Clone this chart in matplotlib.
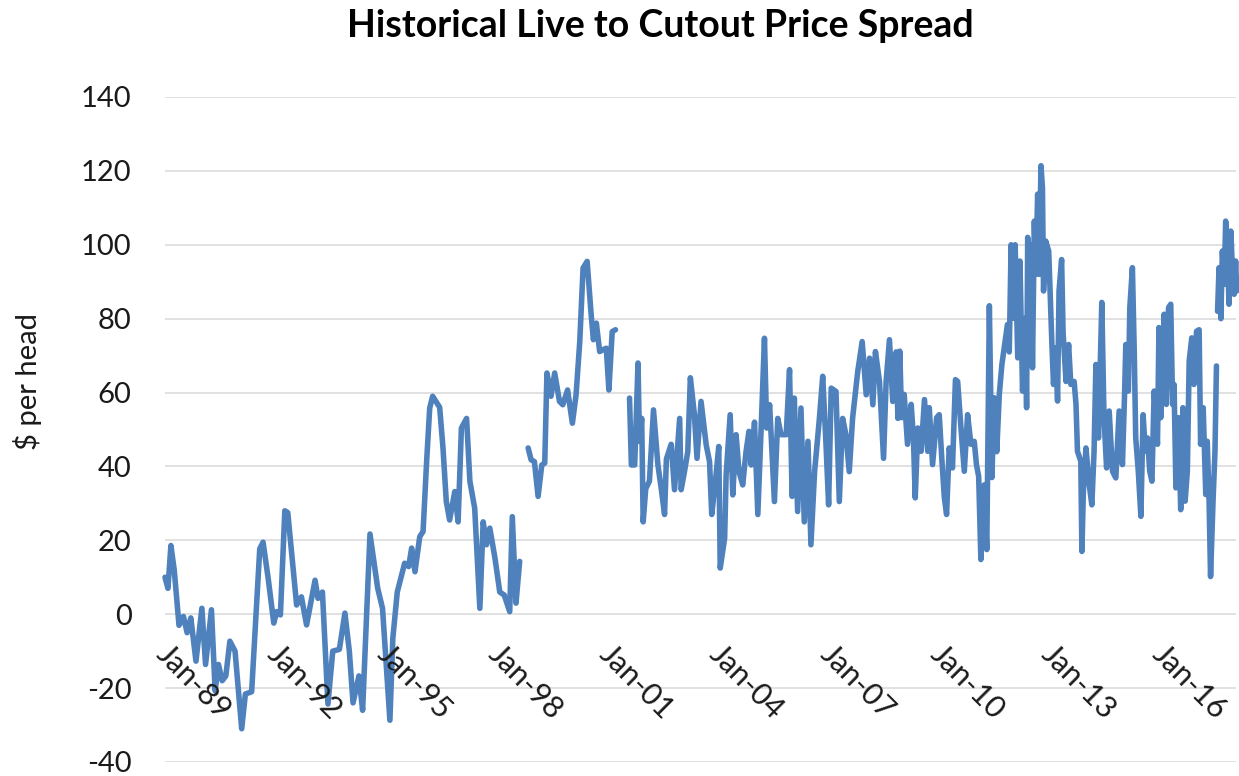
import numpy as np
import matplotlib.pyplot as plt
from matplotlib.transforms import offset_copy

# Live to cutout spread ($ per head).
# x values are fractional years; the series has gaps, so it is kept in pieces.

years_89_98 = [1989.00, 1989.08, 1989.16, 1989.25, 1989.38, 1989.50, 1989.60, 1989.70, 1989.84, 1990.00,
               1990.10, 1990.26, 1990.36, 1990.45, 1990.55, 1990.65, 1990.76, 1990.90, 1991.08, 1991.18,
               1991.35, 1991.57, 1991.66, 1991.80, 1991.95, 1992.03, 1992.13, 1992.25, 1992.33, 1992.57,
               1992.70, 1992.84, 1993.07, 1993.15, 1993.27, 1993.42, 1993.55, 1993.73, 1993.88, 1994.00,
               1994.10, 1994.26, 1994.36, 1994.56, 1994.77, 1994.90, 1995.10, 1995.18, 1995.30, 1995.50,
               1995.61, 1995.69, 1995.78, 1995.91, 1996.00, 1996.10, 1996.18, 1996.26, 1996.45, 1996.54,
               1996.63, 1996.72, 1996.86, 1996.95, 1997.04, 1997.18, 1997.27, 1997.40, 1997.54, 1997.63,
               1997.72, 1997.81, 1997.95, 1998.08, 1998.20, 1998.35, 1998.42, 1998.52, 1998.62]
spread_89_98 = [10, 7, 18.6, 12, -3, -0.6, -5, -1, -12.7, 1.6,
                -13.6, 1.2, -20.7, -13.6, -18, -16.7, -7.3, -10, -31, -21.6,
                -21, 17.7, 19.5, 9.6, -2.4, 0.7, -0.2, 28, 27.5, 2.5,
                4.7, -2.9, 9.2, 4.3, 6, -24.3, -10, -9.5, 0.3, -10,
                -24, -16.7, -26, 21.7, 7, 1.6, -28.7, -6.5, 6, 13.8,
                12.9, 17.9, 11.5, 21, 22.4, 42, 55.8, 59, 56, 45,
                30.5, 25.5, 33.2, 25, 50.4, 53, 36, 28.7, 1.6, 25,
                18.8, 23.3, 15.2, 6, 5.2, 0.7, 26.4, 3, 14.3]

years_98_01 = [1998.85, 1998.93, 1999.02, 1999.12, 1999.22, 1999.30, 1999.36, 1999.47, 1999.57, 1999.70,
               1999.79, 1999.92, 2000.05, 2000.15, 2000.25, 2000.34, 2000.45, 2000.56, 2000.62, 2000.70,
               2000.79, 2000.88, 2000.97, 2001.04, 2001.13, 2001.22]
spread_98_01 = [45, 41.8, 41.3, 31.9, 40.4, 40.9, 65.3, 59, 65.3, 57.6,
                56.7, 60.7, 51.7, 59.4, 73.8, 93.7, 95.5, 81, 74.3, 78.8,
                71.1, 71.6, 72, 60.7, 76.5, 77]

years_01_08 = [2001.60, 2001.65, 2001.74, 2001.83, 2001.87, 2001.93, 2001.97, 2002.04, 2002.14, 2002.25,
               2002.37, 2002.46, 2002.55, 2002.60, 2002.73, 2002.82, 2002.96, 2003.00, 2003.09, 2003.18,
               2003.25, 2003.36, 2003.43, 2003.54, 2003.68, 2003.77, 2003.83, 2003.93, 2004.02, 2004.06,
               2004.18, 2004.22, 2004.33, 2004.40, 2004.49, 2004.57, 2004.67, 2004.76, 2004.84, 2004.90,
               2004.99, 2005.08, 2005.17, 2005.26, 2005.32, 2005.40, 2005.53, 2005.62, 2005.71, 2005.85,
               2005.94, 2006.01, 2006.07, 2006.16, 2006.25, 2006.34, 2006.44, 2006.52, 2006.62, 2006.75,
               2006.84, 2006.93, 2007.00, 2007.07, 2007.20, 2007.29, 2007.38, 2007.47, 2007.56, 2007.65,
               2007.79, 2007.91, 2008.02, 2008.11, 2008.20, 2008.27, 2008.38, 2008.49, 2008.56, 2008.65,
               2008.74, 2008.83, 2008.88, 2008.93, 2008.98]
spread_01_08 = [58.5, 40.4, 40.4, 68, 46.8, 53, 25, 34, 36, 55.3,
                40.4, 34, 27, 42, 46, 33.7, 53, 33.7, 38.6, 44,
                64, 54, 42.2, 57.6, 45.8, 41.3, 27, 36, 45.4, 12.5,
                20.6, 37.7, 54, 32.3, 48.6, 38.6, 35, 44, 49.5, 40.4,
                52, 27, 50.4, 74.7, 50.4, 56.7, 30.5, 53, 48.6, 48.6,
                66.2, 31.9, 58.5, 27.8, 55.8, 25, 46.8, 18.8, 38.6, 53,
                64.4, 45.8, 29.6, 61.2, 60.3, 30.5, 53, 48.6, 38.6, 53,
                65.7, 73.8, 59.4, 69.3, 56.7, 71.1, 63, 42.2, 63, 74.3,
                57.6, 71, 53, 71.2, 53.2]

years_09_17 = [2009.05, 2009.14, 2009.24, 2009.30, 2009.35, 2009.42, 2009.51, 2009.60, 2009.69, 2009.73,
               2009.82, 2009.93, 2010.00, 2010.08, 2010.14, 2010.20, 2010.27, 2010.36, 2010.44, 2010.50,
               2010.59, 2010.68, 2010.77, 2010.86, 2010.95, 2011.01, 2011.07, 2011.13, 2011.22, 2011.29,
               2011.36, 2011.43, 2011.49, 2011.56, 2011.63, 2011.70, 2011.79, 2011.85, 2011.90, 2011.95,
               2012.01, 2012.06, 2012.13, 2012.19, 2012.26, 2012.33, 2012.37, 2012.40, 2012.44, 2012.49,
               2012.53, 2012.58, 2012.62, 2012.67, 2012.71, 2012.76, 2012.80, 2012.83, 2012.89, 2012.97,
               2013.00, 2013.06, 2013.10, 2013.16, 2013.21, 2013.25, 2013.32, 2013.36, 2013.44, 2013.51,
               2013.57, 2013.66, 2013.71, 2013.75, 2013.84, 2013.87, 2013.91, 2013.98, 2014.07, 2014.14,
               2014.20, 2014.25, 2014.32, 2014.41, 2014.47, 2014.54, 2014.61, 2014.70, 2014.79, 2014.88,
               2014.97, 2015.03, 2015.06, 2015.13, 2015.17, 2015.24, 2015.29, 2015.33, 2015.40, 2015.47,
               2015.53, 2015.59, 2015.65, 2015.71, 2015.77, 2015.83, 2015.92, 2015.96, 2016.01, 2016.10,
               2016.16, 2016.22, 2016.28, 2016.33, 2016.37, 2016.42, 2016.49, 2016.55, 2016.61, 2016.67,
               2016.73, 2016.78, 2016.85, 2016.91, 2016.98, 2017.05, 2017.09, 2017.16, 2017.23, 2017.27,
               2017.32, 2017.36, 2017.43, 2017.48, 2017.52]
spread_09_17 = [59.5, 46, 56.8, 47.7, 31.5, 50.4, 44.1, 58.1, 44.1, 55.9,
                40.5, 53.2, 54, 40.5, 31.5, 27, 45, 39.6, 63.5, 63,
                50.4, 38.7, 54, 46, 46.8, 40.5, 37.3, 14.8, 35, 17.5,
                83.5, 37, 58.6, 44, 59.5, 67.6, 74, 78.4, 71, 100,
                80.1, 100, 69.4, 95.6, 60.4, 80.1, 55.9, 102, 80, 100,
                66.7, 106.4, 92, 113.7, 92, 121.4, 115.5, 87.5, 101, 98.3,
                89.3, 72.1, 62.2, 72.1, 57.7, 87.5, 96, 76.2, 63, 73,
                62.2, 63, 56.8, 44.1, 41.4, 17, 33.3, 45, 35, 29.6,
                44.1, 67.6, 47.7, 84.4, 53.2, 39.6, 55, 38.7, 36.9, 55,
                40.5, 60.4, 73, 60.4, 83, 93.8, 71.2, 47.7, 38.7, 26.5,
                54, 44.1, 47.7, 38.7, 36, 60.4, 46, 77.6, 53.2, 81.2,
                56.8, 83, 83.9, 56.8, 62.2, 34.2, 53.2, 28.3, 55.9, 30.6,
                38.7, 68.5, 74.8, 62.2, 76.6, 77, 46, 55.9, 32.4, 46.8,
                30.6, 10.2, 31.5, 44.1, 67.2]

years_17 = [2017.55, 2017.59, 2017.64, 2017.68, 2017.73, 2017.77, 2017.82, 2017.86, 2017.91, 2017.95,
            2018.00, 2018.04, 2018.07]
spread_17 = [82, 93.8, 80, 98.3, 89.3, 106.4, 98.3, 83.9, 103.7, 93.8,
             86.6, 95.6, 87.5]

tick_years = [1989, 1992, 1995, 1998, 2001, 2004, 2007, 2010, 2013, 2016]
tick_labels = ['Jan-89', 'Jan-92', 'Jan-95', 'Jan-98', 'Jan-01',
               'Jan-04', 'Jan-07', 'Jan-10', 'Jan-13', 'Jan-16']

line_color = '#4F81BD'
text_color = '#1a1a1a'
plt.rcParams['font.family'] = ['Lato', 'DejaVu Sans']
plt.rcParams['axes.unicode_minus'] = False

fig = plt.figure(figsize=(12.39, 7.76), dpi=100)
W, H = 1239, 776
ax = fig.add_axes([165 / W, 1 - 762 / H, (1236 - 165) / W, (762 - 97) / H])

segments = [
    (years_89_98, spread_89_98),
    (years_98_01, spread_98_01),
    (years_01_08 + years_09_17, spread_01_08 + spread_09_17),
    (years_17, spread_17),
]
for xs, ys in segments:
    ax.plot(xs, ys, color=line_color, lw=4.0, solid_joinstyle='round',
            solid_capstyle='round', clip_on=False, zorder=3)

ax.set_xlim(1989, 2018.05)
ax.set_ylim(-40, 140)
ax.set_yticks(np.arange(-40, 141, 20))
ax.grid(axis='y', color='#D9D9D9', lw=1.1)
ax.set_axisbelow(True)
for side in ['top', 'right', 'left', 'bottom']:
    ax.spines[side].set_visible(False)
ax.tick_params(axis='y', length=0, pad=24, labelsize=21, labelcolor=text_color)
ax.set_xticks([])

# x labels hang from the zero line, as in the Excel original
label_tf = offset_copy(ax.transData, fig=fig, x=6, y=-26, units='dots')
for yr, lab in zip(tick_years, tick_labels):
    ax.text(yr, 0, lab, transform=label_tf, rotation=-45, rotation_mode='anchor',
            ha='left', va='top', fontsize=22, color=text_color)

fig.text(660 / W, 1 - 26 / H, 'Historical Live to Cutout Price Spread',
         ha='center', va='center', fontsize=27, fontweight='bold', color='#000000')
fig.text(28 / W, 1 - 382 / H, '$ per head', rotation=90,
         ha='center', va='center', fontsize=21, color=text_color)

fig.savefig('out.png', dpi=100)
